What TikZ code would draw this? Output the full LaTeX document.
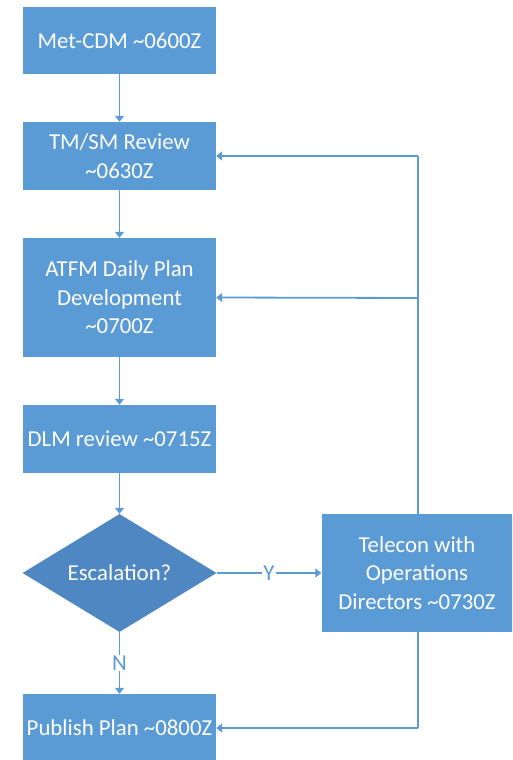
\documentclass[tikz,border=0pt]{standalone}
\usepackage{fontspec}
\setmainfont{Carlito}
\usetikzlibrary{arrows.meta,shapes.geometric}
\definecolor{boxblue}{HTML}{5B9BD5}
\definecolor{diablue}{HTML}{4F87C2}
\tikzset{
  procbox/.style={draw=none,fill=boxblue,text=white,minimum width=193pt,align=center,font=\fontsize{22.8}{28.5}\selectfont,inner sep=0pt},
  decbox/.style={diamond,draw=none,fill=diablue,text=white,minimum width=194pt,minimum height=118pt,inner sep=0pt,aspect=1.64,font=\fontsize{22.8}{28.5}\selectfont},
  conn/.style={draw=boxblue,line width=1.8pt,-{Triangle[width=9pt,length=6pt]}},
  plain/.style={draw=boxblue,line width=1.8pt},
  lbl/.style={fill=white,text=boxblue,font=\fontsize{22.8}{24}\selectfont,inner sep=1pt}
}
\begin{document}
\begin{tikzpicture}[x=1pt,y=-1pt]
\useasboundingbox (0,0) rectangle (512,760);
\clip (0,0) rectangle (512,760);
\node[procbox,minimum height=67pt] (met) at (119.5,40.5) {Met-CDM \textasciitilde0600Z};
\node[procbox,minimum height=68pt] (tm) at (119.5,156) {TM/SM Review\\\textasciitilde0630Z};
\node[procbox,minimum height=119pt] (atfm) at (119.5,297.5) {ATFM Daily Plan\\Development\\\textasciitilde0700Z};
\node[procbox,minimum height=68pt] (dlm) at (119.5,439) {DLM review \textasciitilde0715Z};
\node[decbox] (esc) at (119.5,573) {Escalation?};
\node[procbox,minimum width=191pt,minimum height=118pt] (tel) at (417,573) {Telecon with\\Operations\\Directors \textasciitilde0730Z};
\node[procbox,minimum height=68pt] (pub) at (119.5,728) {Publish Plan \textasciitilde0800Z};
\coordinate (rtop) at (418,156);
\coordinate (rmid) at (418,298);
\coordinate (rbot) at (418,728);
\draw[conn] (met) -- (tm);
\draw[conn] (tm) -- (atfm);
\draw[conn] (atfm) -- (dlm);
\draw[conn] (dlm) -- (esc);
\draw[conn] (esc) -- node[lbl] {Y} (tel);
\draw[conn] (esc) -- node[lbl,pos=0.5] {N} (pub);
\draw[plain] (tel.north -| rtop) -- (rtop);
\draw[conn] (rtop) -- (tm.east);
\draw[conn] (rmid) -- (atfm.east);
\draw[plain] (tel.south -| rbot) -- (rbot);
\draw[conn] (rbot) -- (pub.east);
\end{tikzpicture}
\end{document}
